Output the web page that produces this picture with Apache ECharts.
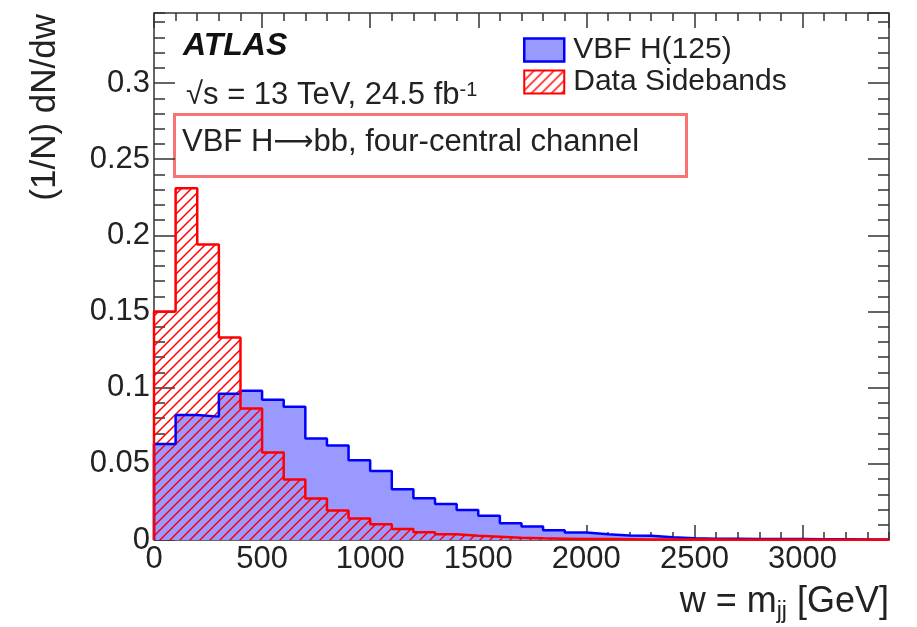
<!DOCTYPE html>
<html>
<head>
<meta charset="utf-8">
<script src="https://cdn.jsdelivr.net/npm/echarts@6/dist/echarts.min.js"></script>
<style>
    html, body { margin: 0; padding: 0; background: #fff; }
    #chart { width: 917px; height: 627px; }
</style>
</head>
<body>
<div id="chart"></div>
<script>
// bin edges of the m_jj histogram [GeV], 100 GeV bins
var binEdges = [0, 100, 200, 300, 400, 500, 600, 700, 800, 900, 1000,
    1100, 1200, 1300, 1400, 1500, 1600, 1700, 1800, 1900, 2000,
    2100, 2200, 2300, 2400, 2500, 2600, 2700, 2800, 2900, 3000,
    3100, 3200, 3300, 3400];

// VBF H(125), normalised
var vbfValues = [0.063, 0.082, 0.081, 0.096, 0.098, 0.092, 0.0875, 0.0667, 0.062, 0.0523,
    0.0453, 0.0333, 0.0274, 0.0237, 0.0197, 0.016, 0.011, 0.0088, 0.0064, 0.005,
    0.0037, 0.003, 0.0028, 0.0018, 0.0011, 0.0009, 0.0008, 0.0007, 0.0006, 0.0006,
    0.0005, 0.0005, 0.0004, 0.0004];

// data sidebands, normalised
var sidebandValues = [0.150, 0.231, 0.194, 0.133, 0.0864, 0.0575, 0.0397, 0.0272, 0.0194, 0.0141,
    0.0104, 0.0072, 0.0051, 0.0037, 0.0028, 0.0022, 0.0015, 0.0011, 0.0009, 0.0007,
    0.0006, 0.0005, 0.0004, 0.0004, 0.0003, 0.0003, 0.0002, 0.0002, 0.0002, 0.0002,
    0.0001, 0.0001, 0.0001, 0.0001];

var xTicks = [0, 500, 1000, 1500, 2000, 2500, 3000];
var yTicks = [0, 0.05, 0.1, 0.15, 0.2, 0.25, 0.3];

(function () {
    var chartDom = document.getElementById('chart');
    var myChart = echarts.init(chartDom);
    var option;

    var font = '"Liberation Sans", Arial, Helvetica, sans-serif';
    var frameColor = '#333';

    // step outline: start on the axis, one point per bin low edge, close at the last edge
    function histPoints(values) {
        var pts = [[binEdges[0], 0]];
        for (var i = 0; i < values.length; i++) {
            pts.push([binEdges[i], values[i]]);
        }
        pts.push([binEdges[binEdges.length - 1], 0]);
        return pts;
    }

    // ROOT style 3004 hatch
    function hatchPattern() {
        var c = document.createElement('canvas');
        c.width = 10;
        c.height = 10;
        var g = c.getContext('2d');
        g.strokeStyle = '#ff0000';
        g.lineWidth = 1.5;
        g.beginPath();
        g.moveTo(0, 10); g.lineTo(10, 0);
        g.moveTo(-2, 2); g.lineTo(2, -2);
        g.moveTo(8, 12); g.lineTo(12, 8);
        g.stroke();
        return { image: c, repeat: 'repeat' };
    }
    var hatch = hatchPattern();

    function axisX(pos, interval, len, labels) {
        return {
            type: 'value',
            position: pos,
            min: 0,
            max: 3400,
            interval: interval,
            axisLine: { show: false, onZero: false },
            splitLine: { show: false },
            axisTick: { show: true, inside: true, length: len, lineStyle: { color: frameColor, width: 1.5 } },
            axisLabel: labels ? {
                show: true, margin: 4, fontSize: 31, fontFamily: font, color: '#222',
                showMaxLabel: false,
                formatter: function (v) { return xTicks.indexOf(v) >= 0 ? String(v) : ''; }
            } : { show: false }
        };
    }

    function axisY(pos, interval, len, labels) {
        return {
            type: 'value',
            position: pos,
            min: 0,
            max: 0.346,
            interval: interval,
            axisLine: { show: false, onZero: false },
            splitLine: { show: false },
            axisTick: { show: true, inside: true, length: len, lineStyle: { color: frameColor, width: 1.5 } },
            axisLabel: labels ? {
                show: true, margin: 4, fontSize: 31, fontFamily: font, color: '#222',
                showMaxLabel: false,
                formatter: function (v) {
                    for (var i = 0; i < yTicks.length; i++) {
                        if (Math.abs(yTicks[i] - v) < 1e-6) return String(yTicks[i]);
                    }
                    return '';
                }
            } : { show: false }
        };
    }

    option = {
        animation: false,
        backgroundColor: '#fff',
        grid: {
            left: 154,
            right: 28,
            top: 13,
            bottom: 87,
            show: true,
            borderColor: frameColor,
            borderWidth: 1.5,
            backgroundColor: 'transparent',
            outerBoundsMode: 'none'
        },
        xAxis: [
            axisX('bottom', 500, 15, true),
            axisX('bottom', 100, 8, false),
            axisX('top', 500, 15, false),
            axisX('top', 100, 8, false)
        ],
        yAxis: [
            axisY('left', 0.05, 21, true),
            axisY('left', 0.01, 11, false),
            axisY('right', 0.05, 21, false),
            axisY('right', 0.01, 11, false)
        ],
        legend: {
            orient: 'vertical',
            left: 523,
            top: 35,
            padding: 0,
            itemWidth: 40,
            itemHeight: 23,
            itemGap: 2,
            icon: 'rect',
            selectedMode: false,
            textStyle: { fontSize: 30, fontFamily: font, color: '#222', padding: [0, 0, 0, 4] },
            data: [
                { name: 'VBF H(125)', itemStyle: { color: '#9999ff', borderColor: '#0000ff', borderWidth: 2.5 } },
                { name: 'Data Sidebands', itemStyle: { color: hatch, borderColor: '#ff0000', borderWidth: 2 } }
            ]
        },
        series: [
            {
                name: 'VBF H(125)',
                type: 'line',
                step: 'end',
                symbol: 'none',
                xAxisIndex: 0,
                yAxisIndex: 0,
                lineStyle: { color: '#0000ff', width: 2.5 },
                itemStyle: { color: '#0000ff' },
                areaStyle: { color: '#9999ff', opacity: 1 },
                data: histPoints(vbfValues)
            },
            {
                name: 'Data Sidebands',
                type: 'line',
                step: 'end',
                symbol: 'none',
                xAxisIndex: 0,
                yAxisIndex: 0,
                lineStyle: { color: '#ff0000', width: 2.5 },
                itemStyle: { color: '#ff0000' },
                areaStyle: { color: hatch, opacity: 1 },
                data: histPoints(sidebandValues)
            }
        ],
        graphic: [
            {
                type: 'text', left: 183, top: 30,
                style: { text: 'ATLAS', font: 'italic bold 32px ' + font, fill: '#111' }
            },
            {
                type: 'text', left: 186, top: 80,
                style: {
                    text: '{a|√s = 13 TeV, 24.5 fb}{s|-1}',
                    fill: '#222',
                    rich: {
                        a: { fontSize: 31, fontFamily: font, lineHeight: 31, verticalAlign: 'top', fill: '#222' },
                        s: { fontSize: 20, fontFamily: font, lineHeight: 20, verticalAlign: 'top', fill: '#222' }
                    }
                }
            },
            {
                type: 'rect', left: 172, top: 112,
                shape: { width: 512, height: 62 },
                style: { fill: 'none', stroke: '#f87474', lineWidth: 3 }
            },
            {
                type: 'text', left: 182, top: 127,
                style: {
                    text: '{a|VBF H}{r|⟶}{a|bb, four-central channel}',
                    fill: '#222',
                    rich: {
                        a: { fontSize: 31, fontFamily: font, lineHeight: 31, fill: '#222' },
                        r: { fontSize: 28, fontFamily: '"DejaVu Sans", sans-serif', lineHeight: 31, fill: '#222' }
                    }
                }
            },
            {
                type: 'text', x: 45, y: 14, rotation: Math.PI / 2,
                style: {
                    text: '(1/N) dN/dw', font: '35px ' + font, fill: '#222',
                    align: 'right', verticalAlign: 'middle'
                }
            },
            {
                type: 'text', x: 889, y: 602,
                style: {
                    text: '{a|w = m}{b|jj}{a| [GeV]}',
                    align: 'right', verticalAlign: 'middle', fill: '#222',
                    rich: {
                        a: { fontSize: 36, fontFamily: font, lineHeight: 36, verticalAlign: 'top', fill: '#222' },
                        b: { fontSize: 23, fontFamily: font, lineHeight: 23, padding: [16, 0, 0, 0], verticalAlign: 'top', fill: '#222' }
                    }
                }
            }
        ]
    };

    myChart.setOption(option);
    window.addEventListener('resize', function () {
        myChart.resize();
    });
})();
</script>
</body>
</html>
